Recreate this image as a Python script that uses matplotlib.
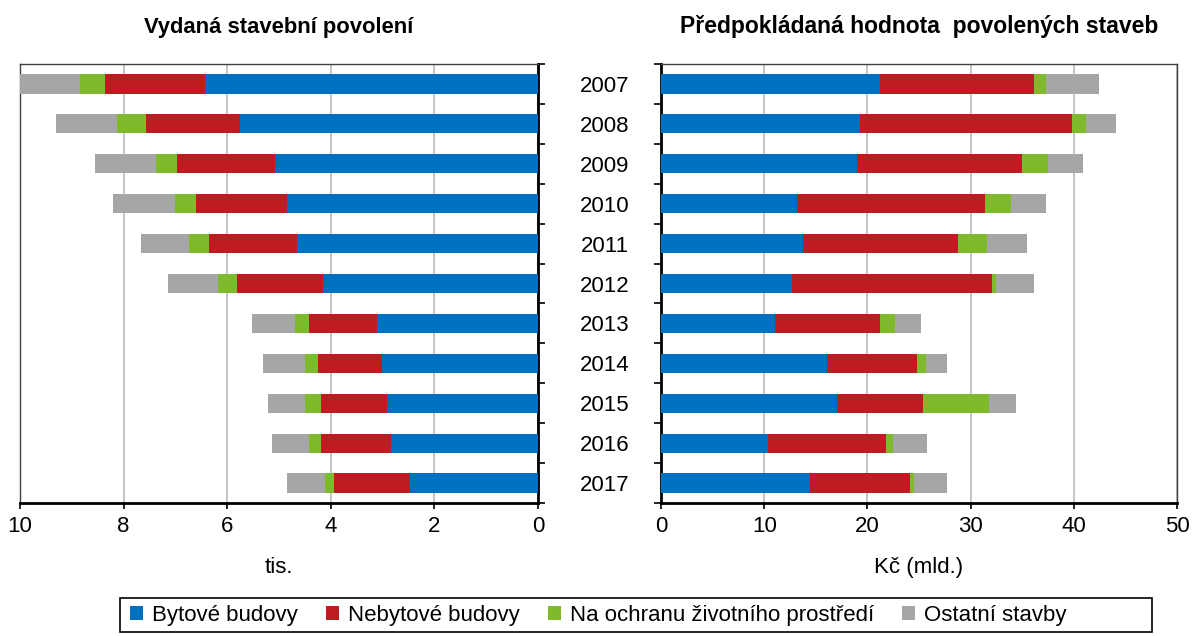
import numpy as np
import matplotlib.pyplot as plt
from matplotlib.patches import Rectangle, Patch
from matplotlib.ticker import FixedLocator, NullFormatter

plt.rcParams['font.family'] = ['Liberation Sans', 'DejaVu Sans']

years = ['2007', '2008', '2009', '2010', '2011', '2012',
         '2013', '2014', '2015', '2016', '2017']
series = ['Bytové budovy', 'Nebytové budovy',
          'Na ochranu životního prostředí', 'Ostatní stavby']
colors = ['#0070C0', '#BE1B22', '#7FBA2C', '#A6A6A6']

# Vydaná stavební povolení (tis.)
permits_byt = [6.42, 5.75, 5.07, 4.84, 4.65, 4.16, 3.11, 3.02, 2.91, 2.84, 2.47]
permits_nebyt = [1.93, 1.81, 1.89, 1.77, 1.70, 1.65, 1.31, 1.22, 1.28, 1.35, 1.47]
permits_env = [0.49, 0.56, 0.41, 0.39, 0.38, 0.36, 0.27, 0.26, 0.31, 0.23, 0.18]
permits_other = [1.19, 1.18, 1.18, 1.21, 0.94, 0.98, 0.83, 0.80, 0.72, 0.72, 0.72]

# Předpokládaná hodnota povolených staveb (mld. Kč)
value_byt = [21.2, 19.3, 18.95, 13.2, 13.8, 12.7, 11.0, 16.1, 17.1, 10.4, 14.4]
value_nebyt = [14.9, 20.5, 16.05, 18.2, 15.0, 19.4, 10.2, 8.7, 8.25, 11.4, 9.7]
value_env = [1.2, 1.4, 2.5, 2.5, 2.8, 0.4, 1.5, 0.9, 6.45, 0.7, 0.4]
value_other = [5.1, 2.9, 3.4, 3.4, 3.9, 3.6, 2.5, 2.0, 2.6, 3.3, 3.2]

W, H = 1192, 636
fig = plt.figure(figsize=(W / 100, H / 100), dpi=100)

ax_l = fig.add_axes([20 / W, 1 - 503 / H, 518 / W, 439 / H])
ax_r = fig.add_axes([661 / W, 1 - 503 / H, 516 / W, 439 / H])

y = np.arange(len(years))
fs = 16


def stacked(ax, data):
    left = np.zeros(len(years))
    for vals, col, name in zip(data, colors, series):
        ax.barh(y, vals, left=left, height=0.48, color=col, label=name, zorder=3)
        left += np.array(vals)


def style(ax, side):
    ax.set_ylim(len(years) - 0.5, -0.5)
    ax.grid(axis='x', color='#BFBFBF', linewidth=1.3, zorder=0)
    ax.tick_params(axis='x', labelsize=fs, length=4, width=1.2, direction='out', pad=5)
    ax.yaxis.set_minor_locator(FixedLocator(np.arange(-0.5, len(years), 1)))
    ax.tick_params(axis='y', which='minor', length=5, width=1.2, direction='out')
    ax.tick_params(axis='y', which='major', length=0, labelsize=fs, pad=23)
    for s in ax.spines.values():
        s.set_color('#404040')
        s.set_linewidth(1.0)
    ax.spines['bottom'].set_color('black')
    ax.spines['bottom'].set_linewidth(2)
    ax.spines[side].set_color('black')
    ax.spines[side].set_linewidth(2)


stacked(ax_l, [permits_byt, permits_nebyt, permits_env, permits_other])
ax_l.set_xlim(10, 0)
ax_l.set_xticks([10, 8, 6, 4, 2, 0])
ax_l.yaxis.tick_right()
ax_l.set_yticks(y)
ax_l.yaxis.set_major_formatter(NullFormatter())
style(ax_l, 'right')
ax_l.set_xlabel('tis.', fontsize=fs, labelpad=15)
ax_l.set_title('Vydaná stavební povolení', fontsize=15.8, fontweight='bold', pad=22)

stacked(ax_r, [value_byt, value_nebyt, value_env, value_other])
ax_r.set_xlim(0, 50)
ax_r.set_xticks([0, 10, 20, 30, 40, 50])
ax_r.set_yticks(y)
ax_r.set_yticklabels(years)
style(ax_r, 'left')
ax_r.set_xlabel('Kč (mld.)', fontsize=fs, labelpad=15)
ax_r.set_title('Předpokládaná hodnota  povolených staveb', fontsize=16.5,
               fontweight='bold', pad=22)

# legend with a box in Excel style
fig.patches.append(Rectangle((120 / W, 1 - 632 / H), 1032 / W, 34 / H,
                             transform=fig.transFigure, fill=False,
                             edgecolor='black', linewidth=1.2))
handles = [Patch(facecolor=c, label=n) for c, n in zip(colors, series)]
fig.legend(handles=handles, loc='center left', ncol=4, frameon=False,
           bbox_to_anchor=(110 / W, 1 - 615 / H), fontsize=fs,
           handlelength=0.6, handleheight=0.6, handletextpad=0.4,
           columnspacing=1.25)

fig.savefig('out.png', dpi=100)
